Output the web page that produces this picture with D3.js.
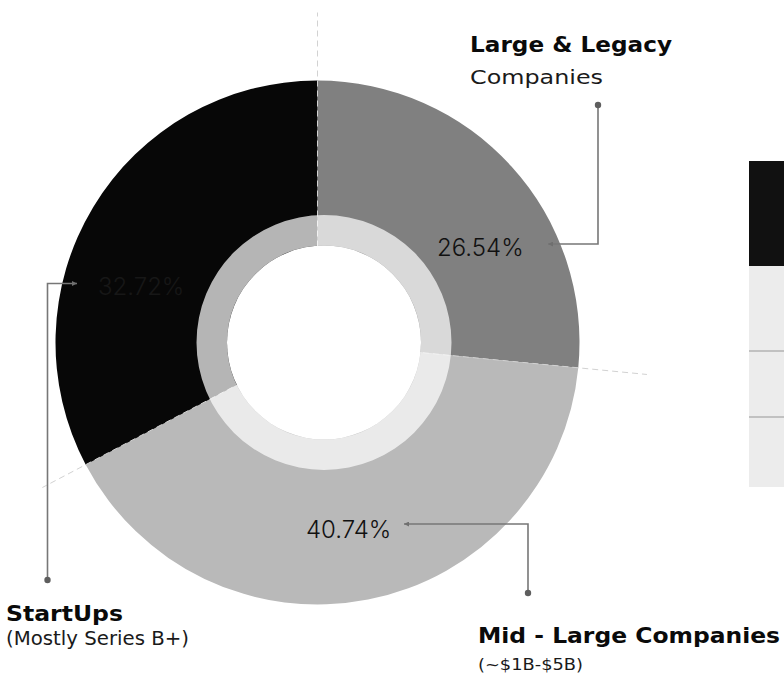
<!DOCTYPE html>
<html>
<head>
<meta charset="utf-8">
<script src="https://cdn.jsdelivr.net/npm/d3@7"></script>
<style>
  html, body { margin: 0; padding: 0; background: #fff; }
  svg { display: block; }
  text { font-family: Inter, "Noto Sans", sans-serif; }
  text.title, text.sub { font-family: "DejaVu Sans", Inter, sans-serif; }
</style>
</head>
<body>
<svg id="chart" width="784" height="675"></svg>
<script>
// Company segments and their share of the total (%)
const segments  = ["Large & Legacy", "Mid - Large Companies", "StartUps"];
const subtitles = ["Companies", "(~$1B-$5B)", "(Mostly Series B+)"];
const shares    = [26.54, 40.74, 32.72];
const fills     = ["#808080", "#b9b9b9", "#070707"];
const pctColors = ["#111111", "#111111", "#171717"];

// Layout
const W = 784, H = 675;
const cx = 317.5, cy = 342.5;
const outerR = 262;
const ring = { cx: 324, cy: 342.5, inner: 97, outer: 127.5 };
const dashOuter = [330, 331, 311];   // how far each slice boundary guide reaches

// Annotation placement per segment: title, subtitle, leader (dot -> elbow -> arrow tip), value text
const notes = [
  { title: [470, 52], titleW: 202, sub: [470, 84], subW: 133, subSize: 19.5, dot: [598, 105], elbow: [598, 244], tip: [548, 244], pct: [437, 256] },
  { title: [478, 643], titleW: 302, sub: [478, 670], subW: 105, subSize: 15, dot: [528, 593], elbow: [528, 524], tip: [404, 524], pct: [306, 538] },
  { title: [6, 621], titleW: 117, sub: [6, 645], subW: 183, subSize: 19, dot: [47.5, 580], elbow: [47.5, 283.5], tip: [77, 283.5], pct: [98, 295] }
];

const svg = d3.select("#chart");

// Arrowhead for the leader lines
svg.append("defs").append("marker")
  .attr("id", "arrow")
  .attr("viewBox", "0 0 10 10")
  .attr("refX", 10).attr("refY", 5)
  .attr("markerWidth", 6).attr("markerHeight", 5)
  .attr("markerUnits", "userSpaceOnUse")
  .attr("orient", "auto")
  .append("path")
  .attr("d", "M0,0 L10,5 L0,10 Z")
  .attr("fill", "#6f6f6f");

// Side table (partially visible)
const table = svg.append("g");
table.append("rect").attr("x", 749).attr("y", 161).attr("width", 60).attr("height", 105).attr("fill", "#111111");
table.append("rect").attr("x", 749).attr("y", 266).attr("width", 60).attr("height", 221).attr("fill", "#ececec");
[351, 417].forEach(y => {
  table.append("line").attr("x1", 749).attr("x2", 784).attr("y1", y).attr("y2", y)
    .attr("stroke", "#b3b3b3").attr("stroke-width", 1.5);
});

// Donut slices
const pie = d3.pie().sort(null).value(d => d);
const arcs = pie(shares);
const arc = d3.arc().innerRadius(80).outerRadius(outerR);

const donut = svg.append("g").attr("transform", `translate(${cx},${cy})`);
donut.selectAll("path.slice")
  .data(arcs)
  .join("path")
  .attr("class", "slice")
  .attr("d", arc)
  .attr("fill", (d, i) => fills[i]);

// Translucent inner ring and the empty hole
const ringArc = d3.arc().innerRadius(ring.inner).outerRadius(ring.outer).startAngle(0).endAngle(2 * Math.PI);
svg.append("path")
  .attr("transform", `translate(${ring.cx},${ring.cy})`)
  .attr("d", ringArc())
  .attr("fill", "#ffffff")
  .attr("fill-opacity", 0.7);
svg.append("circle")
  .attr("cx", ring.cx).attr("cy", ring.cy).attr("r", ring.inner)
  .attr("fill", "#ffffff");

// Dashed guides along each slice boundary
donut.selectAll("line.guide")
  .data(arcs)
  .join("line")
  .attr("class", "guide")
  .attr("x1", d => Math.sin(d.startAngle) * 96)
  .attr("y1", d => -Math.cos(d.startAngle) * 96)
  .attr("x2", (d, i) => Math.sin(d.startAngle) * dashOuter[i])
  .attr("y2", (d, i) => -Math.cos(d.startAngle) * dashOuter[i])
  .attr("stroke", "#d2d2d2")
  .attr("stroke-width", 1)
  .attr("stroke-dasharray", "6,4");

// Value labels
svg.selectAll("text.pct")
  .data(arcs)
  .join("text")
  .attr("class", "pct")
  .attr("x", (d, i) => notes[i].pct[0])
  .attr("y", (d, i) => notes[i].pct[1])
  .attr("font-size", 24)
  .attr("font-weight", 300)
  .attr("fill", (d, i) => pctColors[i])
  .text(d => d3.format(".2f")(d.data) + "%");

// Leader lines
const leaders = svg.append("g");
notes.forEach(n => {
  leaders.append("polyline")
    .attr("points", [n.dot, n.elbow, n.tip].map(p => p.join(",")).join(" "))
    .attr("fill", "none")
    .attr("stroke", "#777777")
    .attr("stroke-width", 1.6)
    .attr("marker-end", "url(#arrow)");
  leaders.append("circle")
    .attr("cx", n.dot[0]).attr("cy", n.dot[1]).attr("r", 3.2)
    .attr("fill", "#5e5e5e");
});

// Segment titles
svg.selectAll("text.title")
  .data(segments)
  .join("text")
  .attr("class", "title")
  .attr("x", (d, i) => notes[i].title[0])
  .attr("y", (d, i) => notes[i].title[1])
  .attr("font-size", 22)
  .attr("font-weight", 700)
  .attr("fill", "#0a0a0a")
  .attr("textLength", (d, i) => notes[i].titleW)
  .attr("lengthAdjust", "spacingAndGlyphs")
  .text(d => d);

svg.selectAll("text.sub")
  .data(subtitles)
  .join("text")
  .attr("class", "sub")
  .attr("x", (d, i) => notes[i].sub[0])
  .attr("y", (d, i) => notes[i].sub[1])
  .attr("font-size", (d, i) => notes[i].subSize)
  .attr("font-weight", 400)
  .attr("fill", "#1a1a1a")
  .attr("textLength", (d, i) => notes[i].subW)
  .attr("lengthAdjust", "spacingAndGlyphs")
  .text(d => d);
</script>
</body>
</html>
